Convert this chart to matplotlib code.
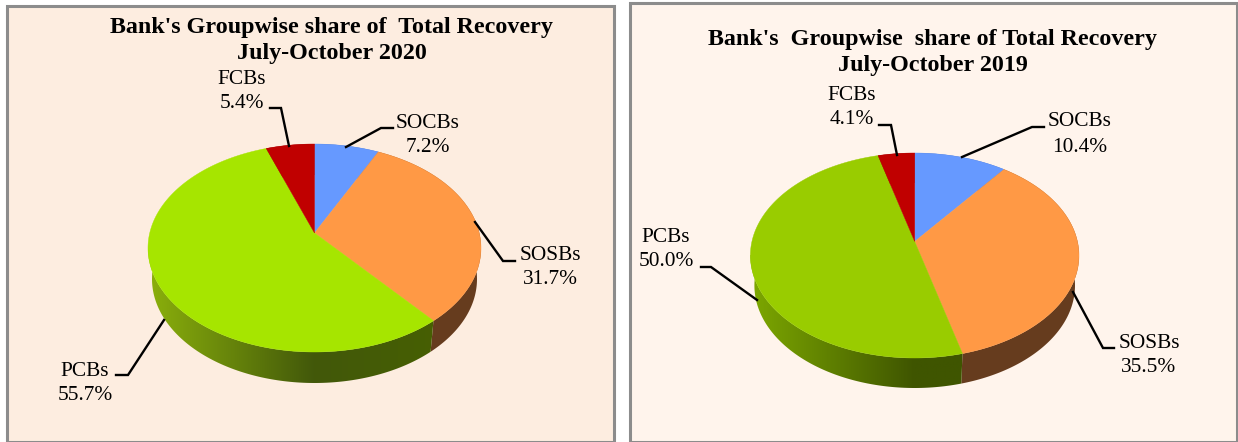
import numpy as np
import matplotlib
matplotlib.use("Agg")
import matplotlib.pyplot as plt
from matplotlib.patches import Polygon, Rectangle
from matplotlib.colors import LinearSegmentedColormap

plt.rcParams['font.family'] = ['Liberation Serif', 'DejaVu Serif']

groups = ["SOCBs", "SOSBs", "PCBs", "FCBs"]
share_2020 = [7.2, 31.7, 55.7, 5.4]
share_2019 = [10.4, 35.5, 50.0, 4.1]

title_2020 = ["Bank's Groupwise share of  Total Recovery", "July-October 2020"]
title_2019 = ["Bank's  Groupwise  share of Total Recovery", "July-October 2019"]

top_colors = ["#6699FF", "#FF9945", None, "#C00000"]
wall_colors = ["#3D5C99", "#663C1E", None, "#730000"]


def rim(theta, cx, cy, rx, ry, lift):
    # tilted circle: the apex sits above the centre of the drawn ellipse
    k = lift / ry
    a = rx * np.sqrt(1 - k ** 2)
    x, y = np.sin(theta), np.cos(theta)
    d = 1 + k * y
    return cx + a * x / d, cy - (ry * y + lift) / d


def draw_pie(ax, values, pcb_color, gradient, cx, cy, rx, ry, lift, depth):
    edges = np.radians(np.cumsum([0] + list(values)) * 3.6)
    # walls first, the top surface covers whatever is hidden
    for i in range(len(values)):
        t = np.linspace(edges[i], edges[i + 1], 200)
        tx, ty = rim(t, cx, cy, rx, ry, lift)
        bx = cx + (tx - cx) * (rx - 4) / rx
        by = ty + depth
        pts = np.column_stack([np.r_[tx, bx[::-1]], np.r_[ty, by[::-1]]])
        if groups[i] == "PCBs":
            cmap = LinearSegmentedColormap.from_list("wall", gradient)
            img = ax.imshow(np.linspace(0, 1, 256).reshape(1, -1), cmap=cmap,
                            extent=(cx - rx, cx + rx, cy + ry + depth + 2, cy), aspect='auto',
                            zorder=2)
            clip = Polygon(pts, closed=True, transform=ax.transData, fc='none', ec='none')
            ax.add_patch(clip)
            img.set_clip_path(clip)
        else:
            ax.add_patch(Polygon(pts, closed=True, fc=wall_colors[i], ec='none', zorder=1))
    for i in range(len(values)):
        t = np.linspace(edges[i], edges[i + 1], 200)
        tx, ty = rim(t, cx, cy, rx, ry, lift)
        pts = np.column_stack([np.r_[cx, tx], np.r_[cy - lift, ty]])
        col = pcb_color if groups[i] == "PCBs" else top_colors[i]
        ax.add_patch(Polygon(pts, closed=True, fc=col, ec=col, lw=0.3, zorder=3))


def panel(ax, x0, x1, y0, bg):
    ax.add_patch(Rectangle((x0, y0), x1 - x0, 442 - y0, fc=bg, ec='#8C8C8C', lw=2.2, zorder=0))


def label(ax, name, value, x, y1, y2):
    ax.text(x, y1 + 2, name, ha='center', va='center', fontsize=15.4, zorder=5)
    ax.text(x, y2 + 2, "%.1f%%" % value, ha='center', va='center', fontsize=15.4, zorder=5)


def leader(ax, xs, ys):
    ax.plot(xs, ys, color='black', lw=1.7, solid_joinstyle='miter', zorder=4)


fig = plt.figure(figsize=(12.38, 4.42), dpi=100)
ax = fig.add_axes([0, 0, 1, 1])

panel(ax, 6.5, 613.5, 5.5, '#FDEDE0')
panel(ax, 629.5, 1236.5, 3, '#FFF4EC')

# 2020
draw_pie(ax, share_2020, '#A6E500', [(0, '#8BB00C'), (0.5, '#42580A'), (1, '#486200')],
         314.5, 248, 166.5, 104, 15, 31)
ax.text(331.5, 27, title_2020[0], ha='center', va='center', fontsize=17.3, fontweight='bold')
ax.text(331.5, 54, title_2020[1], ha='center', va='center', fontsize=17.3, fontweight='bold')
label(ax, groups[3], share_2020[3], 242, 77, 102)
label(ax, groups[0], share_2020[0], 428, 121, 145)
label(ax, groups[1], share_2020[1], 550, 254, 278)
label(ax, groups[2], share_2020[2], 85, 369, 393)
leader(ax, [270, 281, 289], [108, 108, 146])
leader(ax, [346, 381, 393], [147, 128, 128])
leader(ax, [475, 503, 515], [222, 261, 261])
leader(ax, [164, 128, 116], [320, 375, 375])

# 2019
draw_pie(ax, share_2019, '#99CC00', [(0, '#7DA800'), (0.5, '#3F5500'), (1, '#3F5500')],
         914.7, 255.5, 164.3, 102.5, 14, 30)
ax.text(932.5, 39, title_2019[0], ha='center', va='center', fontsize=17.3, fontweight='bold')
ax.text(932.5, 66, title_2019[1], ha='center', va='center', fontsize=17.3, fontweight='bold')
label(ax, groups[3], share_2019[3], 852, 94, 117)
label(ax, groups[0], share_2019[0], 1080, 120, 145)
label(ax, groups[1], share_2019[1], 1149, 342, 366)
label(ax, groups[2], share_2019[2], 666, 236, 260)
leader(ax, [879, 891, 897], [125, 125, 155])
leader(ax, [962, 1032, 1044], [157, 127, 127])
leader(ax, [1073, 1103, 1114], [292, 348, 348])
leader(ax, [701, 711, 757], [267, 267, 300])

ax.set_xlim(0, 1238)
ax.set_ylim(442, 0)
ax.axis('off')

fig.savefig("out.png", dpi=100)
